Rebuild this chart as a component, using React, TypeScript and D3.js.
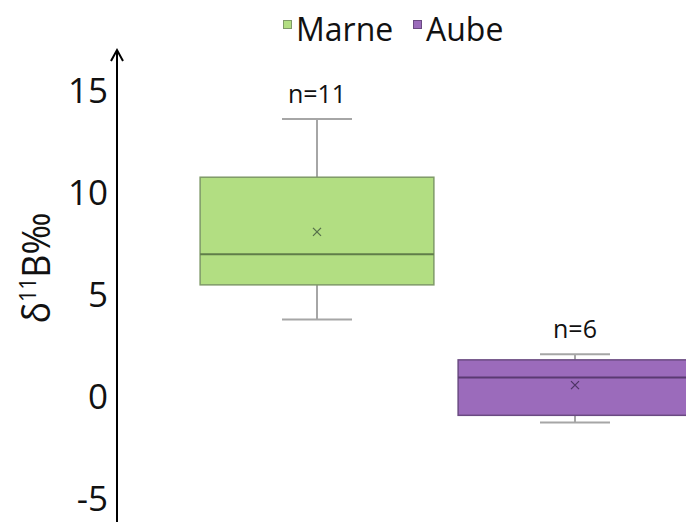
import React from "react";
import * as d3 from "d3";

const categories = ["Marne", "Aube"];
const counts = [11, 6];
const minVals = [3.8, -1.25];
const q1Vals = [5.5, -0.9];
const medianVals = [7.0, 0.95];
const q3Vals = [10.78, 1.82];
const maxVals = [13.64, 2.1];
const meanVals = [8.1, 0.58];
const yTicks = [-5, 0, 5, 10, 15];

const fills = ["#b2de82", "#9b6bbb"];
const strokes = ["#7f9a68", "#6a4a82"];
const medianStrokes = ["#5f7d49", "#5a3a72"];
const markStrokes = ["#56704a", "#4f3565"];

const W = 686;
const H = 522;
const FONT = "'Open Sans', 'Noto Sans', sans-serif";

export default function App() {
  const y = d3.scaleLinear().domain([-5, 15]).range([498.9, 91.2]);
  const x = d3
    .scaleBand<string>()
    .domain(categories)
    .range([188, 704])
    .paddingInner(0.094)
    .paddingOuter(0.047);
  const bw = x.bandwidth();
  const capHalf = 35;
  const axisX = 117;
  const axisTop = 50;

  return (
    <svg
      width={W}
      height={H}
      style={{ position: "absolute", left: 0, top: 0, background: "#fff" }}
      fontFamily={FONT}
    >
      {/* legend */}
      {categories.map((c, i) => {
        const lx = [283, 413][i];
        return (
          <g key={c}>
            <rect x={lx + 0.5} y={20.5} width={8} height={8} fill={fills[i]} stroke={strokes[i]} strokeWidth={1} />
            <text x={lx + 13} y={41.5} fontSize={33} fill="#111" transform={`translate(${lx + 13},0) scale(0.97,1) translate(${-(lx + 13)},0)`}>
              {c}
            </text>
          </g>
        );
      })}

      {/* y axis */}
      <line x1={axisX} x2={axisX} y1={axisTop + 2} y2={H + 5} stroke="#000" strokeWidth={2} />
      <path
        d={`M${axisX - 6},${axisTop + 11} L${axisX},${axisTop} L${axisX + 6},${axisTop + 11}`}
        fill="none"
        stroke="#000"
        strokeWidth={2}
      />
      {yTicks.map((t) => (
        <text
          key={t}
          x={axisX - 9}
          y={y(t)}
          dy="0.35em"
          textAnchor="end"
          fontSize={35}
          fill="#111"
        >
          {t}
        </text>
      ))}
      <text
        transform={`translate(50,268) rotate(-90) scale(0.92,1)`}
        textAnchor="middle"
        fontSize={39}
        fill="#111"
      >
        δ
        <tspan fontSize={23} dy={-14}>
          11
        </tspan>
        <tspan dy={14}>B‰</tspan>
      </text>

      {/* boxes */}
      {categories.map((c, i) => {
        const x0 = x(c)!;
        const cx = x0 + bw / 2;
        const mx = y(meanVals[i]);
        return (
          <g key={c}>
            {/* whiskers */}
            <line x1={cx} x2={cx} y1={y(maxVals[i])} y2={y(q3Vals[i])} stroke="#a6a6a6" strokeWidth={2} />
            <line x1={cx} x2={cx} y1={y(q1Vals[i])} y2={y(minVals[i])} stroke="#a6a6a6" strokeWidth={2} />
            <line x1={cx - capHalf} x2={cx + capHalf} y1={y(maxVals[i])} y2={y(maxVals[i])} stroke="#a6a6a6" strokeWidth={2} />
            <line x1={cx - capHalf} x2={cx + capHalf} y1={y(minVals[i])} y2={y(minVals[i])} stroke="#a6a6a6" strokeWidth={2} />
            <rect
              x={x0}
              y={y(q3Vals[i])}
              width={bw}
              height={y(q1Vals[i]) - y(q3Vals[i])}
              fill={fills[i]}
              stroke={strokes[i]}
              strokeWidth={1.5}
            />
            <line x1={x0} x2={x0 + bw} y1={y(medianVals[i])} y2={y(medianVals[i])} stroke={medianStrokes[i]} strokeWidth={2} />
            <path
              d={`M${cx - 4},${mx - 4} L${cx + 4},${mx + 4} M${cx - 4},${mx + 4} L${cx + 4},${mx - 4}`}
              stroke={markStrokes[i]}
              strokeWidth={1.3}
            />
            <text x={cx} y={y(maxVals[i]) - 16} textAnchor="middle" fontSize={25} fill="#111">
              {`n=${counts[i]}`}
            </text>
          </g>
        );
      })}
    </svg>
  );
}
